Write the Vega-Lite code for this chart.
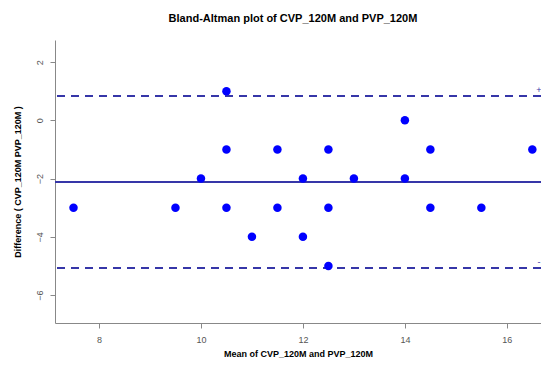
{
  "$schema": "https://vega.github.io/schema/vega-lite/v6.json",
  "autosize": "none",
  "width": 486,
  "height": 283,
  "padding": {"left": 55, "top": 40, "right": 0, "bottom": 47},
  "background": "white",
  "config": {"view": {"stroke": null}, "font": "Liberation Sans"},
  "title": {"text": "Bland-Altman plot of CVP_120M and PVP_120M", "fontSize": 11, "fontWeight": "bold", "color": "#000000", "anchor": "middle", "offset": 16, "dx": -5, "font": "Liberation Sans"},
  "datasets": {
    "pts": [
      {"mean": 7.5, "diff": -3}, {"mean": 9.5, "diff": -3}, {"mean": 10, "diff": -2},
      {"mean": 10.5, "diff": 1}, {"mean": 10.5, "diff": -1}, {"mean": 10.5, "diff": -3},
      {"mean": 11, "diff": -4}, {"mean": 11.5, "diff": -1}, {"mean": 11.5, "diff": -3},
      {"mean": 12, "diff": -2}, {"mean": 12, "diff": -4}, {"mean": 12.5, "diff": -1},
      {"mean": 12.5, "diff": -3}, {"mean": 12.5, "diff": -5}, {"mean": 13, "diff": -2},
      {"mean": 14, "diff": 0}, {"mean": 14, "diff": -2}, {"mean": 14.5, "diff": -1},
      {"mean": 14.5, "diff": -3}, {"mean": 15.5, "diff": -3}, {"mean": 16.5, "diff": -1}
    ],
    "lines": [
      {"kind": "mean", "value": -2.12},
      {"kind": "upper", "value": 0.84},
      {"kind": "lower", "value": -5.07}
    ],
    "labels": [
      {"mean": 16.63, "diff": 1.05, "label": "+"},
      {"mean": 16.63, "diff": -4.88, "label": "-"}
    ]
  },
  "layer": [
    {
      "data": {"name": "lines"},
      "transform": [{"filter": "datum.kind == 'mean'"}],
      "mark": {"type": "rule", "color": "#3636a8", "strokeWidth": 2},
      "encoding": {"y": {"field": "value", "type": "quantitative"}}
    },
    {
      "data": {"name": "lines"},
      "transform": [{"filter": "datum.kind != 'mean'"}],
      "mark": {"type": "rule", "color": "#3636a8", "strokeWidth": 2, "strokeDash": [8, 6]},
      "encoding": {"y": {"field": "value", "type": "quantitative"}}
    },
    {
      "data": {"name": "pts"},
      "mark": {"type": "point", "filled": true, "color": "#0000ff", "opacity": 1, "size": 72},
      "encoding": {
        "x": {
          "field": "mean", "type": "quantitative",
          "scale": {"domain": [7.137, 16.67], "nice": false, "zero": false},
          "axis": {
            "title": "Mean of CVP_120M and PVP_120M", "values": [8, 10, 12, 14, 16],
            "grid": false, "domainColor": "#888888", "tickColor": "#888888", "tickSize": 5,
            "labelColor": "#555555", "labelFontSize": 9, "labelPadding": 7,
            "titleFontSize": 9, "titleFontWeight": "bold", "titleColor": "#000000", "titlePadding": 5
          }
        },
        "y": {
          "field": "diff", "type": "quantitative",
          "scale": {"domain": [-6.96, 2.76], "nice": false, "zero": false},
          "axis": {
            "title": "Difference ( CVP_120M  PVP_120M )", "values": [-6, -4, -2, 0, 2],
            "grid": false, "domainColor": "#888888", "tickColor": "#888888", "tickSize": 5,
            "labelColor": "#555555", "labelFontSize": 9, "labelPadding": 6,
            "labelAngle": -90, "labelAlign": "center", "labelBaseline": "bottom",
            "titleFontSize": 9, "titleFontWeight": "bold", "titleColor": "#000000", "titlePadding": 13
          }
        }
      }
    },
    {
      "data": {"name": "labels"},
      "mark": {"type": "text", "color": "#3636a8", "fontSize": 9, "align": "center"},
      "encoding": {
        "x": {"field": "mean", "type": "quantitative"},
        "y": {"field": "diff", "type": "quantitative"},
        "text": {"field": "label"}
      }
    }
  ]
}
